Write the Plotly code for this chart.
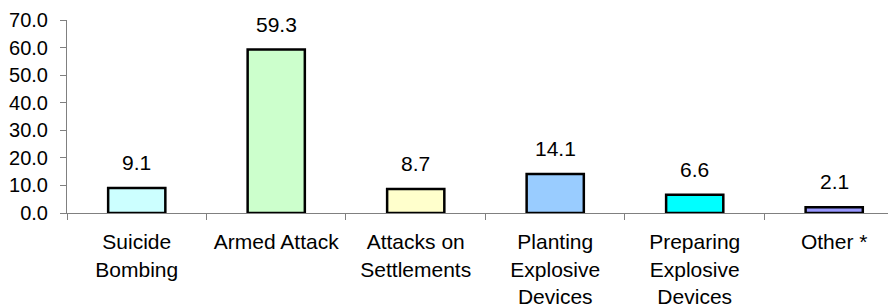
import plotly.graph_objects as go

categories = ["Suicide<br>Bombing", "Armed Attack", "Attacks on<br>Settlements",
              "Planting<br>Explosive<br>Devices", "Preparing<br>Explosive<br>Devices", "Other *"]
values = [9.1, 59.3, 8.7, 14.1, 6.6, 2.1]
colors = ["#CCFFFF", "#CCFFCC", "#FFFFCC", "#99CCFF", "#00FFFF", "#9999FF"]
y_ticks = [0, 10, 20, 30, 40, 50, 60, 70]

FONT = "Liberation Sans, Arial, sans-serif"
FS = 21

fig = go.Figure()
fig.add_trace(go.Bar(
    x=categories, y=values, width=0.41,
    marker=dict(color=colors, line=dict(color="black", width=2.5)),
    hoverinfo="skip",
))

for c, v in zip(categories, values):
    fig.add_annotation(x=c, y=v, text=f"{v:.1f}", showarrow=False,
                       yanchor="bottom", yshift=12,
                       font=dict(family=FONT, size=FS, color="black"))

# page body has an 8px default margin, so the figure is offset by (8, 8)
fig.update_layout(
    width=888, height=300,
    margin=dict(l=59, r=0, t=12, b=95),
    paper_bgcolor="white", plot_bgcolor="white",
    showlegend=False,
    font=dict(family=FONT, size=FS, color="black"),
    xaxis=dict(
        type="category", range=[-0.5, 5.443], automargin=False,
        showline=True, linecolor="#808080", linewidth=1,
        ticks="outside", tickson="boundaries", ticklen=6, tickcolor="#808080",
        showgrid=False, zeroline=False,
        ticklabelstandoff=10,
        tickfont=dict(family=FONT, size=FS, color="black"),
    ),
    yaxis=dict(
        range=[0, 70], tickvals=y_ticks, tickformat=".1f", automargin=False,
        showline=True, linecolor="#808080", linewidth=1,
        ticks="outside", ticklen=6, tickcolor="#808080",
        showgrid=False, zeroline=False,
        ticklabelstandoff=8,
        tickfont=dict(family=FONT, size=20, color="black"),
    ),
)

fig.write_html("out.html")
